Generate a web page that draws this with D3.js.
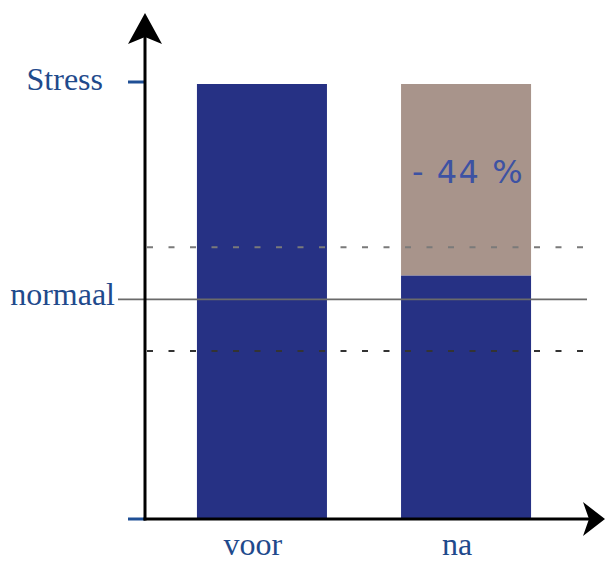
<!DOCTYPE html>
<html>
<head>
<meta charset="utf-8">
<script src="https://cdn.jsdelivr.net/npm/d3@7"></script>
<style>
  html, body { margin: 0; padding: 0; background: #fff; }
  svg { display: block; }
</style>
</head>
<body>
<svg id="chart" width="606" height="562"></svg>
<script>
// Stress level before and after, on a 0–100 scale (100 = "Stress")
const categories = ["voor", "na"];
const remaining = [100, 56];      // stress level left after treatment
const reduction = [0, 44];        // part removed (percent of start level)
const levelTicks = [
  { label: "Stress", value: 100 },
  { label: "normaal", value: 50.5 }
];
const bandLimits = [62.5, 38.6];  // dashed limits around the normal level

const svg = d3.select("#chart");
const axisX = 145, baseY = 519;

const y = d3.scaleLinear().domain([0, 100]).range([baseY, 84]);
const x = d3.scaleBand().domain(categories)
  .range([160, 568]).paddingInner(0.363).paddingOuter(0.181);

const blue = "#263184", brown = "#a8948b", labelBlue = "#1f4a8c";

// bars: blue remaining part, brown removed part on top
svg.append("g").selectAll("rect")
  .data(categories).join("rect")
  .attr("x", d => x(d)).attr("width", x.bandwidth())
  .attr("y", (d, i) => y(remaining[i]))
  .attr("height", (d, i) => y(0) - y(remaining[i]))
  .attr("fill", blue);

const cut = categories.map((c, i) => ({ c, low: remaining[i], high: remaining[i] + reduction[i], r: reduction[i] }))
  .filter(d => d.r > 0);

svg.append("g").selectAll("rect")
  .data(cut).join("rect")
  .attr("x", d => x(d.c)).attr("width", x.bandwidth())
  .attr("y", d => y(d.high))
  .attr("height", d => y(d.low) - y(d.high))
  .attr("fill", brown);

// reduction label
svg.append("g").selectAll("text")
  .data(cut).join("text")
  .attr("x", d => x(d.c) + x.bandwidth() / 2 + 2)
  .attr("y", 183)
  .attr("text-anchor", "middle")
  .attr("font-family", "DejaVu Sans, sans-serif")
  .attr("font-size", 32)
  .attr("fill", "#3d52a3")
  .style("letter-spacing", "1.5px")
  .text(d => "- " + d.r + " %");

// normal level and its dashed limits
svg.append("line")
  .attr("x1", 118).attr("x2", 587)
  .attr("y1", y(levelTicks[1].value)).attr("y2", y(levelTicks[1].value))
  .attr("stroke", "#6a6a6a").attr("stroke-width", 1.6);

svg.append("g").selectAll("line").data(bandLimits).join("line")
  .attr("x1", 147).attr("x2", 592)
  .attr("y1", d => y(d)).attr("y2", d => y(d))
  .attr("stroke", (d, i) => i === 0 ? "#7a7a7a" : "#333")
  .attr("stroke-width", 2)
  .attr("stroke-dasharray", "6 15.5");

// level ticks on the vertical axis
svg.append("g").selectAll("line").data([0, 100]).join("line")
  .attr("x1", 128).attr("x2", axisX)
  .attr("y1", d => y(d) - (d === 100 ? 2 : 0)).attr("y2", d => y(d) - (d === 100 ? 2 : 0))
  .attr("stroke", "#1f4f95").attr("stroke-width", 3);

// axes with arrow heads
svg.append("line").attr("x1", axisX).attr("x2", axisX)
  .attr("y1", baseY + 1.5).attr("y2", 30)
  .attr("stroke", "#000").attr("stroke-width", 3);
svg.append("line").attr("x1", axisX - 1.5).attr("x2", 590)
  .attr("y1", baseY).attr("y2", baseY)
  .attr("stroke", "#000").attr("stroke-width", 3);

svg.append("path")
  .attr("d", `M${axisX},13 L${axisX + 17},44 L${axisX},37 L${axisX - 17},44 Z`)
  .attr("fill", "#000");
svg.append("path")
  .attr("d", `M605,${baseY} L583,${baseY - 17} L589,${baseY} L583,${baseY + 17} Z`)
  .attr("fill", "#000");

// level labels
svg.append("g").selectAll("text").data(levelTicks).join("text")
  .attr("x", (d, i) => i === 0 ? 103 : 115)
  .attr("y", d => y(d.value) + 6)
  .attr("text-anchor", "end")
  .attr("font-family", "Liberation Serif, Times New Roman, serif")
  .attr("font-size", 32)
  .attr("fill", labelBlue)
  .text(d => d.label);

// category labels
svg.append("g").selectAll("text").data(categories).join("text")
  .attr("x", d => x(d) + x.bandwidth() / 2 - 9)
  .attr("y", 555)
  .attr("text-anchor", "middle")
  .attr("font-family", "Liberation Serif, Times New Roman, serif")
  .attr("font-size", 32)
  .attr("fill", labelBlue)
  .text(d => d);
</script>
</body>
</html>
